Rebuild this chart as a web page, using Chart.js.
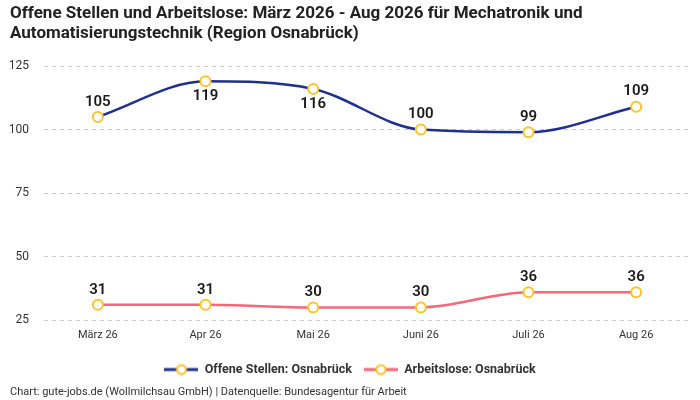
<!DOCTYPE html>
<html><head><meta charset="utf-8">
<script src="https://cdn.jsdelivr.net/npm/chart.js@4"></script>
<style>html,body{margin:0;padding:0;background:#fff}#wrap{width:700px;height:400px}</style>
</head><body><div id="wrap"><canvas id="c" width="700" height="400"></canvas></div>
<script>
const categories = ["März 26","Apr 26","Mai 26","Juni 26","Juli 26","Aug 26"];
const offeneStellen = [105,119,116,100,99,109];
const arbeitslose = [31,31,30,30,36,36];
const labelBelowOffene = [false,true,true,false,false,false];
const yTicks = [25,50,75,100,125];
const seriesNames = ["Offene Stellen: Osnabrück","Arbeitslose: Osnabrück"];
const titleLines = ["Offene Stellen und Arbeitslose: März 2026 - Aug 2026 für Mechatronik und","Automatisierungstechnik (Region Osnabrück)"];
const footerText = "Chart: gute-jobs.de (Wollmilchsau GmbH) | Datenquelle: Bundesagentur für Arbeit";

const FONT = "Roboto, 'Noto Sans', sans-serif";
const BLUE = "#1f2f91", RED = "#f7677a", YEL = "#fcc52b";

function legendImg(color){
  const c = document.createElement('canvas'); c.width = 34; c.height = 12;
  const x = c.getContext('2d');
  x.strokeStyle = color; x.lineWidth = 3;
  x.beginPath(); x.moveTo(0,6); x.lineTo(34,6); x.stroke();
  x.beginPath(); x.arc(17,6,4.5,0,Math.PI*2); x.fillStyle='#fff'; x.fill();
  x.strokeStyle = YEL; x.lineWidth = 2; x.stroke();
  return c;
}
const imgs = [legendImg(BLUE), legendImg(RED)];

const labelPlugin = {
  id:'dlabels',
  afterDatasetsDraw(chart){
    const ctx = chart.ctx;
    ctx.save();
    ctx.font = "600 15px " + FONT;
    ctx.fillStyle = "#1a1a1a";
    ctx.textAlign = "center"; ctx.textBaseline = "middle";
    chart.data.datasets.forEach((ds, di) => {
      const meta = chart.getDatasetMeta(di);
      meta.data.forEach((pt, i) => {
        const below = di === 0 && labelBelowOffene[i];
        ctx.fillText(String(ds.data[i]), pt.x, pt.y + (below ? 15 : -15));
      });
    });
    ctx.restore();
  }
};

new Chart(document.getElementById('c'), {
  type:'line',
  data:{
    labels: categories,
    datasets:[
      {label: seriesNames[0], data: offeneStellen, borderColor: BLUE, borderWidth: 2.5,
       pointBackgroundColor:'#fff', pointBorderColor: YEL, pointBorderWidth: 2, pointRadius: 5,
       cubicInterpolationMode:'monotone', fill:false},
      {label: seriesNames[1], data: arbeitslose, borderColor: RED, borderWidth: 2.5,
       pointBackgroundColor:'#fff', pointBorderColor: YEL, pointBorderWidth: 2, pointRadius: 5,
       cubicInterpolationMode:'monotone', fill:false}
    ]
  },
  options:{
    responsive:false, animation:false,
    layout:{padding:{left:10,right:10,top:4,bottom:1}},
    plugins:{
      title:{display:true, text:titleLines, align:'start', color:'#222',
        font:{family:FONT, size:17, weight:'bold', lineHeight:1.15}, padding:{top:0,bottom:23}},
      subtitle:{display:true, text:footerText, position:'bottom', align:'start', color:'#333',
        font:{family:FONT, size:11}, padding:{top:0,bottom:0}},
      legend:{position:'bottom', labels:{usePointStyle:true, pointStyleWidth:34, boxHeight:12,
        color:'#333', font:{family:FONT, size:12.5, weight:'bold'}, padding:12,
        generateLabels(chart){
          return chart.data.datasets.map((ds,i)=>({text:ds.label, pointStyle:imgs[i], fillStyle:'#fff',
            strokeStyle:ds.borderColor, lineWidth:0, datasetIndex:i, hidden:false, fontColor:'#333'}));
        }}},
      tooltip:{enabled:false}
    },
    scales:{
      x:{offset:true, grid:{display:false, drawTicks:false}, border:{display:false},
        ticks:{color:'#333', font:{family:FONT, size:11}, padding:9}},
      y:{min:25, max:125, afterBuildTicks(s){ s.ticks = yTicks.map(v=>({value:v})); },
        afterFit(s){ s.width = 34; },
        grid:{color:'#cccccc', drawTicks:false}, border:{display:false, dash:[4,4]},
        ticks:{color:'#333', font:{family:FONT, size:12}, padding:15}}
    }
  },
  plugins:[labelPlugin]
});
</script></body></html>
